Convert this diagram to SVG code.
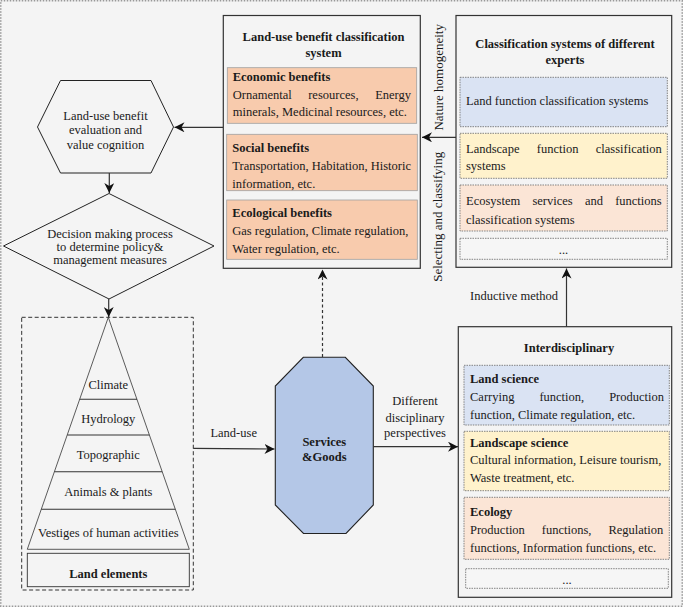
<svg xmlns="http://www.w3.org/2000/svg" width="683" height="607" viewBox="0 0 683 607" font-family="Liberation Serif, Times New Roman, serif">
<defs>
<marker id="ah" markerWidth="11" markerHeight="10" refX="10" refY="5" orient="auto" markerUnits="userSpaceOnUse">
<path d="M0,0 L10,5 L0,10 L3,5 z" fill="#111"/>
</marker>
<style>
text{font-size:12.5px;fill:#1a1a1a}
.b{font-weight:bold}
.m{text-anchor:middle}
.e{text-anchor:end}
.box{fill:none;stroke:#333;stroke-width:1.2}
.ben{fill:#f8cbad;stroke:#a0a0a0;stroke-width:0.8}
.dot{stroke:#777;stroke-width:0.9;stroke-dasharray:1.5 1}
.blue{fill:#dae3f3}
.yel{fill:#fff2cc}
.pch{fill:#fbe5d6}
.wht{fill:#f6f6f6}
.shape{fill:#f4f4f4;stroke:#222;stroke-width:1}
.con{fill:none;stroke:#333;stroke-width:1.2;marker-end:url(#ah)}
.vt{font-size:13px}
</style>
</defs>
<rect x="0" y="0" width="683" height="607" fill="#f4f4f4"/>
<rect x="0.75" y="0.75" width="681.5" height="605.5" fill="none" stroke="#999" stroke-width="1.5" stroke-dasharray="1.5 1.5"/>

<g id="landuse-system">
<rect class="box" x="223.3" y="15.5" width="197" height="252.8"/>
<text class="b m" x="323.5" y="41">Land-use benefit classification</text>
<text class="b m" x="323.5" y="57">system</text>
<rect class="ben" x="227.3" y="67.7" width="189.4" height="55.6"/>
<text class="b" x="232.7" y="81">Economic benefits</text>
<text x="232.7" y="99">Ornamental</text>
<text x="308.2" y="99">resources,</text>
<text class="e" x="411" y="99">Energy</text>
<text x="232.7" y="116">minerals, Medicinal resources, etc.</text>
<rect class="ben" x="226.7" y="134.3" width="190.6" height="56.4"/>
<text class="b" x="232.3" y="151.5">Social benefits</text>
<text x="232.3" y="170">Transportation, Habitation, Historic</text>
<text x="232.3" y="187.5">information, etc.</text>
<rect class="ben" x="226.7" y="200" width="190.6" height="59.3"/>
<text class="b" x="232.3" y="217">Ecological benefits</text>
<text x="232.3" y="235">Gas regulation, Climate regulation,</text>
<text x="232.3" y="253">Water regulation, etc.</text>
</g>

<g id="expert-systems">
<rect class="box" x="456" y="15.5" width="215.7" height="251.8"/>
<text class="b m" x="565" y="48">Classification systems of different</text>
<text class="b m" x="565" y="63.5">experts</text>
<rect class="dot blue" x="460" y="77.3" width="207.3" height="49.4"/>
<text x="466" y="105">Land function classification systems</text>
<rect class="dot yel" x="460" y="133.3" width="207.3" height="45"/>
<text x="466" y="152.5">Landscape</text>
<text x="536.8" y="152.5">function</text>
<text class="e" x="661.7" y="152.5">classification</text>
<text x="466" y="170">systems</text>
<rect class="dot pch" x="460" y="185" width="207.3" height="46"/>
<text x="466" y="205">Ecosystem</text>
<text x="532.4" y="205">services</text>
<text x="584.9" y="205">and</text>
<text class="e" x="661.7" y="205">functions</text>
<text x="466" y="223.5">classification systems</text>
<rect class="dot wht" x="460" y="238.3" width="207.3" height="21"/>
<text class="m" x="563.5" y="254">...</text>
</g>

<g id="evaluation">
<polygon class="shape" points="37.5,127 60.5,80.5 151,80.5 173.5,127 151,173 60.5,173"/>
<text class="m" x="105.5" y="120">Land-use benefit</text>
<text class="m" x="105.5" y="134.3">evaluation and</text>
<text class="m" x="105.5" y="148.6">value cognition</text>
</g>

<g id="decision">
<polygon class="shape" points="109,193.5 214,246 109,299 3.5,246"/>
<text class="m" x="110" y="237.5">Decision making process</text>
<text class="m" x="110" y="251">to determine policy&amp;</text>
<text class="m" x="110" y="264.3">management measures</text>
</g>

<g id="land-elements">
<rect x="21.7" y="317.3" width="171.6" height="272.7" fill="none" stroke="#333" stroke-width="1" stroke-dasharray="4 2.5"/>
<polygon points="108.3,317.3 189.3,549.3 27.3,549.3" fill="none" stroke="#333" stroke-width="0.8"/>
<line x1="79.7" y1="399.3" x2="137" y2="399.3" stroke="#333" stroke-width="1.1"/>
<line x1="67.3" y1="435" x2="149.3" y2="435" stroke="#333" stroke-width="1.1"/>
<line x1="54.5" y1="471.7" x2="162.1" y2="471.7" stroke="#333" stroke-width="1.1"/>
<line x1="41.3" y1="509.3" x2="175.3" y2="509.3" stroke="#333" stroke-width="1.1"/>
<text class="m" x="108.3" y="388.5">Climate</text>
<text class="m" x="108.3" y="422.5">Hydrology</text>
<text class="m" x="108.3" y="459">Topographic</text>
<text class="m" x="108.3" y="496">Animals &amp; plants</text>
<text class="m" x="108.3" y="536.5">Vestiges of human activities</text>
<rect x="27.3" y="553.3" width="162" height="33.4" fill="none" stroke="#333" stroke-width="0.9"/>
<text class="b m" x="108.3" y="577.5">Land elements</text>
</g>

<g id="services-goods">
<polygon points="303.3,357.3 345.3,357.3 373.3,386 373.3,505 346,533.5 303.5,533.5 275.3,505 275.3,386" fill="#b4c7e7" stroke="#222" stroke-width="1.1"/>
<text class="b m" x="324.3" y="446">Services</text>
<text class="b m" x="324.3" y="460.5">&amp;Goods</text>
</g>

<g id="interdisciplinary">
<rect class="box" x="458.3" y="326.7" width="213.4" height="270.6"/>
<text class="b m" x="569" y="351.5">Interdisciplinary</text>
<rect class="dot blue" x="464" y="365.3" width="205.3" height="59.7"/>
<text class="b" x="470" y="382.5">Land science</text>
<text x="470" y="401">Carrying</text>
<text x="539.4" y="401">function,</text>
<text class="e" x="664" y="401">Production</text>
<text x="470" y="418.5">function, Climate regulation, etc.</text>
<rect class="dot yel" x="464" y="431.3" width="205.3" height="59.4"/>
<text class="b" x="470" y="447">Landscape science</text>
<text x="470" y="464">Cultural information, Leisure tourism,</text>
<text x="470" y="482">Waste treatment, etc.</text>
<rect class="dot pch" x="464" y="497.3" width="205.3" height="62"/>
<text class="b" x="470" y="515.5">Ecology</text>
<text x="470" y="533.5">Production</text>
<text x="541.8" y="533.5">functions,</text>
<text class="e" x="663.3" y="533.5">Regulation</text>
<text x="470" y="552">functions, Information functions, etc.</text>
<rect class="dot wht" x="465.7" y="568.7" width="202.6" height="19.6"/>
<text class="m" x="567" y="584">...</text>
</g>

<g id="connectors">
<line class="con" x1="223" y1="127.3" x2="174.5" y2="127.3"/>
<line class="con" x1="109.3" y1="173" x2="109.3" y2="193"/>
<line class="con" x1="108.7" y1="299" x2="108.7" y2="317"/>
<line class="con" x1="456" y1="137.3" x2="422" y2="137.3"/>
<line class="con" x1="566.5" y1="326.7" x2="566.5" y2="268.5" stroke="#555"/>
<line class="con" x1="322.5" y1="357" x2="322.5" y2="269.5" stroke-dasharray="3 2.5"/>
<line class="con" x1="193.3" y1="448.3" x2="274.5" y2="449"/>
<line class="con" x1="373.3" y1="446.7" x2="458" y2="446.7"/>
<text class="m" x="233.7" y="436.5">Land-use</text>
<text class="m" x="415" y="405">Different</text>
<text class="m" x="415" y="421.5">disciplinary</text>
<text class="m" x="415" y="437">perspectives</text>
<text class="m" x="514" y="300">Inductive method</text>
<text class="m vt" transform="translate(442.5,77.3) rotate(-90)">Nature homogeneity</text>
<text class="m vt" transform="translate(442,216.8) rotate(-90)">Selecting and classifying</text>
</g>
</svg>
